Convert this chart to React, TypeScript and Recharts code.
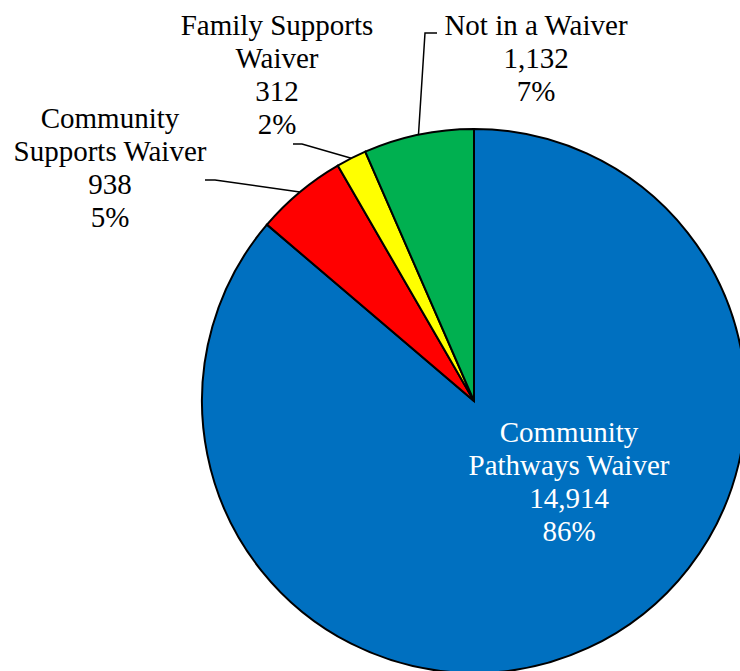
import { PieChart, Pie, Cell } from "recharts";

const categories = [
  "Community Pathways Waiver",
  "Community Supports Waiver",
  "Family Supports Waiver",
  "Not in a Waiver",
];
const counts = [14914, 938, 312, 1132];
const percentLabels = ["86%", "5%", "2%", "7%"];
const colors = ["#0070C0", "#FF0000", "#FFFF00", "#00B050"];

// label text lines, split the way the original wraps them
const labelLines = [
  ["Community", "Pathways Waiver"],
  ["Community", "Supports Waiver"],
  ["Family Supports", "Waiver"],
  ["Not in a Waiver"],
];

// label layout, relative to pie centre
const labelLayout = [
  { dx: 95, dy: 41, color: "#fff", leader: null },
  { dx: -364, dy: -273, color: "#000", leader: [[-259, -221], [-269, -221]] },
  { dx: -197, dy: -366, color: "#000", leader: [[-172, -257], [-181, -257]] },
  { dx: 62, dy: -366, color: "#000", leader: [[-49, -368], [-37, -368]] },
];

const data = categories.map((name, i) => ({ name, value: counts[i] }));

const RAD = Math.PI / 180;
const LINE_H = 33;
const FONT = "'Liberation Serif', 'Times New Roman', Times, serif";

const renderLabel = (props: any) => {
  const { cx, cy, midAngle, outerRadius, index } = props;
  const lay = labelLayout[index];
  const lines = [
    ...labelLines[index],
    counts[index].toLocaleString("en-US"),
    percentLabels[index],
  ];
  const sx = cx + outerRadius * Math.cos(-midAngle * RAD);
  const sy = cy + outerRadius * Math.sin(-midAngle * RAD);
  return (
    <g key={`lbl-${index}`}>
      {lay.leader && (
        <polyline
          points={[
            `${sx},${sy}`,
            ...lay.leader.map(([x, y]) => `${cx + x},${cy + y}`),
          ].join(" ")}
          fill="none"
          stroke="#000"
          strokeWidth={1.5}
        />
      )}
      <text
        x={cx + lay.dx}
        y={cy + lay.dy}
        textAnchor="middle"
        fill={lay.color}
        style={{ fontFamily: FONT, fontSize: 29 }}
      >
        {lines.map((t, i) => (
          <tspan key={i} x={cx + lay.dx} dy={i === 0 ? 0 : LINE_H}>
            {t}
          </tspan>
        ))}
      </text>
    </g>
  );
};

export default function App() {
  return (
    <div style={{ position: "absolute", left: 0, top: 0, background: "#fff" }}>
      <PieChart
        width={740}
        height={671}
        margin={{ top: 0, right: 0, bottom: 0, left: 0 }}
      >
        <Pie
          data={data}
          dataKey="value"
          cx={474}
          cy={401}
          outerRadius={272}
          startAngle={90}
          endAngle={-270}
          stroke="#000"
          strokeWidth={2}
          label={renderLabel}
          labelLine={false}
          isAnimationActive={false}
        >
          {data.map((d, i) => (
            <Cell key={d.name} fill={colors[i]} />
          ))}
        </Pie>
      </PieChart>
    </div>
  );
}
